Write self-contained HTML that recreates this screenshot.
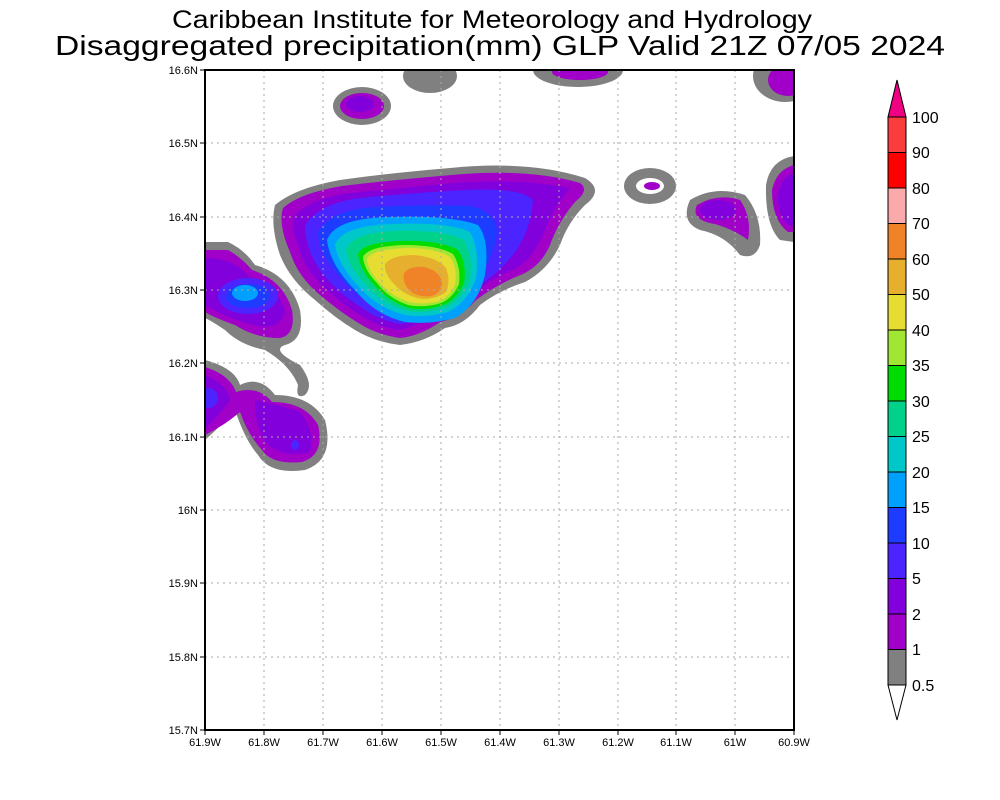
<!DOCTYPE html>
<html><head><meta charset="utf-8"><style>body{margin:0;background:#fff}svg{display:block}text{font-family:"Liberation Sans",sans-serif;fill:#000}</style></head><body>
<svg width="1000" height="800" viewBox="0 0 1000 800" xmlns="http://www.w3.org/2000/svg">
<text x="492" y="28" font-size="25" text-anchor="middle" textLength="640" lengthAdjust="spacingAndGlyphs">Caribbean Institute for Meteorology and Hydrology</text>
<text x="500" y="55" font-size="28" text-anchor="middle" textLength="890" lengthAdjust="spacingAndGlyphs">Disaggregated precipitation(mm) GLP Valid 21Z 07/05 2024</text>
<defs><clipPath id="c"><rect x="205" y="70" width="589" height="660"/></clipPath></defs>
<g clip-path="url(#c)">
<ellipse cx="362" cy="106" rx="29" ry="19" fill="#808080"/><ellipse cx="362" cy="106" rx="22" ry="13" fill="#a000c8"/><ellipse cx="360" cy="104" rx="14" ry="8" fill="#8200dc"/>
<ellipse cx="430" cy="76" rx="27" ry="17" fill="#808080"/>
<ellipse cx="578" cy="70" rx="45" ry="17" fill="#808080"/><ellipse cx="580" cy="72" rx="28" ry="8" fill="#a000c8"/>
<ellipse cx="785" cy="76" rx="32" ry="26" fill="#808080"/><ellipse cx="788" cy="80" rx="20" ry="16" fill="#a000c8"/>
<ellipse cx="650" cy="186" rx="26" ry="18" fill="#808080"/><ellipse cx="650" cy="186" rx="14" ry="8" fill="#fff"/><ellipse cx="652" cy="186" rx="8" ry="4" fill="#a000c8"/>
<path d="M690,200 Q715,185 745,195 Q762,215 760,245 Q755,260 740,255 Q725,235 700,230 Q680,222 690,200Z" fill="#808080"/>
<path d="M697,205 Q718,193 740,200 Q752,217 748,240 Q735,230 715,224 Q690,220 697,205Z" fill="#a000c8"/>
<ellipse cx="718" cy="210" rx="18" ry="10" fill="#8200dc"/>
<path d="M794,156 Q770,160 766,185 Q765,225 780,240 L794,242Z" fill="#808080"/>
<path d="M794,165 Q776,170 772,190 Q772,220 788,232 L794,232Z" fill="#a000c8"/>
<ellipse cx="794" cy="200" rx="16" ry="26" fill="#8200dc"/>
<path d="M205,242 L228,242 Q245,250 255,265 Q290,275 300,310 Q305,340 285,345 Q270,350 300,365 Q315,385 305,395 Q295,400 298,385 Q290,365 265,350 Q240,345 225,330 Q210,320 205,318Z" fill="#808080"/>
<path d="M205,250 L228,250 Q242,258 252,270 Q283,280 292,310 Q296,335 280,338 Q255,338 235,325 Q215,318 205,312Z" fill="#a000c8"/>
<path d="M205,258 Q235,258 250,278 Q280,288 285,312 Q280,330 258,326 Q230,320 205,305Z" fill="#8200dc"/>
<ellipse cx="248" cy="296" rx="30" ry="18" fill="#4b24ff"/>
<ellipse cx="248" cy="296" rx="22" ry="12" fill="#1e3cff"/>
<ellipse cx="245" cy="293" rx="13" ry="8" fill="#00a0ff"/>
<path d="M205,360 Q235,368 240,385 Q260,375 275,395 Q310,395 325,420 Q335,460 305,470 Q270,475 258,455 Q245,440 235,410 Q222,425 205,440Z" fill="#808080"/>
<path d="M205,367 Q230,375 236,392 Q258,385 272,402 Q305,402 318,425 Q325,455 302,462 Q272,465 262,450 Q248,435 240,412 Q225,425 205,435Z" fill="#a000c8"/>
<path d="M205,375 Q228,385 230,400 Q215,420 205,428Z" fill="#8200dc"/>
<path d="M255,400 Q280,405 300,412 Q315,430 310,452 Q285,458 268,445 Q255,430 255,400Z" fill="#8200dc"/>
<ellipse cx="208" cy="398" rx="10" ry="10" fill="#4b24ff"/>
<ellipse cx="295" cy="445" rx="4" ry="5" fill="#4b24ff"/>
<path d="M275,205 Q295,188 340,180 Q390,173 450,168 Q530,160 585,178 Q605,190 585,205 Q568,222 560,245 Q548,270 525,282 Q500,290 480,305 Q465,325 445,328 Q425,342 400,345 Q375,342 355,330 Q335,318 315,300 Q290,280 280,255 Q270,225 275,205Z" fill="#808080"/>
<path d="M283,208 Q300,193 342,186 Q392,180 452,175 Q528,168 580,183 Q590,190 575,202 Q558,222 550,245 Q540,268 518,276 Q496,285 476,300 Q460,318 440,322 Q420,336 400,338 Q378,335 360,324 Q340,312 320,295 Q298,277 290,252 Q278,225 283,208Z" fill="#a000c8"/>
<path d="M295,215 Q312,198 350,193 Q400,188 455,183 Q520,178 570,188 Q555,205 545,230 Q532,262 512,270 Q490,280 470,295 Q452,312 432,315 Q412,328 398,330 Q380,327 365,318 Q343,305 325,288 Q303,268 298,245 Q290,228 295,215Z" fill="#8200dc"/>
<path d="M305,225 Q320,203 360,198 Q410,193 465,190 Q520,187 533,200 Q530,232 515,252 Q500,272 480,285 Q460,302 440,310 Q418,322 400,324 Q378,320 362,308 Q340,294 325,277 Q305,252 305,225Z" fill="#4b24ff"/>
<path d="M318,232 Q330,210 375,207 Q425,204 470,206 Q498,212 497,235 Q492,262 477,278 Q458,296 440,306 Q420,316 402,316 Q380,313 365,300 Q345,286 333,268 Q318,250 318,232Z" fill="#1e3cff"/>
<path d="M327,240 Q335,218 390,217 Q450,215 478,225 Q490,240 485,275 Q478,305 455,318 Q430,325 405,322 Q375,315 355,290 Q330,265 327,240Z" fill="#00a0ff"/>
<path d="M335,245 Q342,225 395,224 Q448,222 470,232 Q480,250 476,278 Q468,302 448,312 Q425,318 405,315 Q378,308 360,288 Q338,265 335,245Z" fill="#00c8c8"/>
<path d="M346,250 Q352,232 398,231 Q445,230 464,240 Q473,256 470,280 Q462,300 445,308 Q425,314 407,311 Q382,304 366,285 Q348,266 346,250Z" fill="#00d28c"/>
<path d="M358,254 Q363,242 402,241 Q440,240 458,250 Q467,263 464,283 Q456,301 441,306 Q423,311 408,308 Q386,300 373,284 Q359,268 358,254Z" fill="#00dc00"/>
<path d="M363,257 Q368,246 405,245 Q438,245 453,254 Q461,266 459,284 Q452,300 438,304 Q421,308 408,305 Q388,298 377,283 Q364,270 363,257Z" fill="#a0e632"/>
<path d="M367,259 Q372,249 407,248 Q436,248 450,257 Q458,268 455,285 Q448,299 436,302 Q420,305 409,302 Q391,296 380,283 Q368,271 367,259Z" fill="#e6dc32"/>
<path d="M385,264 Q392,255 414,255 Q437,257 446,268 Q451,281 446,292 Q437,299 422,299 Q405,296 395,285 Q384,274 385,264Z" fill="#e6af2d"/>
<path d="M404,273 Q410,266 424,267 Q438,270 442,281 Q443,292 432,296 Q418,298 409,290 Q402,282 404,273Z" fill="#f08228"/>
</g>
<g stroke="#aaa" stroke-width="1" stroke-dasharray="2,4">
<line x1="264" y1="70" x2="264" y2="730"/><line x1="323" y1="70" x2="323" y2="730"/><line x1="382" y1="70" x2="382" y2="730"/><line x1="441" y1="70" x2="441" y2="730"/><line x1="500" y1="70" x2="500" y2="730"/><line x1="559" y1="70" x2="559" y2="730"/><line x1="618" y1="70" x2="618" y2="730"/><line x1="676" y1="70" x2="676" y2="730"/><line x1="735" y1="70" x2="735" y2="730"/>
<line x1="205" y1="143" x2="794" y2="143"/><line x1="205" y1="217" x2="794" y2="217"/><line x1="205" y1="290" x2="794" y2="290"/><line x1="205" y1="363" x2="794" y2="363"/><line x1="205" y1="437" x2="794" y2="437"/><line x1="205" y1="510" x2="794" y2="510"/><line x1="205" y1="583" x2="794" y2="583"/><line x1="205" y1="657" x2="794" y2="657"/>
</g>
<rect x="205" y="70" width="589" height="660" fill="none" stroke="#000" stroke-width="2"/>
<g stroke="#000" stroke-width="1">
<line x1="200" y1="70" x2="205" y2="70"/><line x1="200" y1="143" x2="205" y2="143"/><line x1="200" y1="217" x2="205" y2="217"/><line x1="200" y1="290" x2="205" y2="290"/><line x1="200" y1="363" x2="205" y2="363"/><line x1="200" y1="437" x2="205" y2="437"/><line x1="200" y1="510" x2="205" y2="510"/><line x1="200" y1="583" x2="205" y2="583"/><line x1="200" y1="657" x2="205" y2="657"/><line x1="200" y1="730" x2="205" y2="730"/>
<line x1="205" y1="730" x2="205" y2="735"/><line x1="264" y1="730" x2="264" y2="735"/><line x1="323" y1="730" x2="323" y2="735"/><line x1="382" y1="730" x2="382" y2="735"/><line x1="441" y1="730" x2="441" y2="735"/><line x1="500" y1="730" x2="500" y2="735"/><line x1="559" y1="730" x2="559" y2="735"/><line x1="618" y1="730" x2="618" y2="735"/><line x1="676" y1="730" x2="676" y2="735"/><line x1="735" y1="730" x2="735" y2="735"/><line x1="794" y1="730" x2="794" y2="735"/>
</g>
<g font-size="11" text-anchor="end">
<text x="198" y="74">16.6N</text><text x="198" y="147">16.5N</text><text x="198" y="221">16.4N</text><text x="198" y="294">16.3N</text><text x="198" y="367">16.2N</text><text x="198" y="441">16.1N</text><text x="198" y="514">16N</text><text x="198" y="587">15.9N</text><text x="198" y="661">15.8N</text><text x="198" y="734">15.7N</text>
</g>
<g font-size="11" text-anchor="middle">
<text x="205" y="746">61.9W</text><text x="264" y="746">61.8W</text><text x="323" y="746">61.7W</text><text x="382" y="746">61.6W</text><text x="441" y="746">61.5W</text><text x="500" y="746">61.4W</text><text x="559" y="746">61.3W</text><text x="618" y="746">61.2W</text><text x="676" y="746">61.1W</text><text x="735" y="746">61W</text><text x="794" y="746">60.9W</text>
</g>
<g stroke="#000" stroke-width="1">
<polygon points="888,117 897,80 906,117" fill="#f00082"/>
<rect x="888" y="117" width="18" height="35.5" fill="#fa3c3c"/>
<rect x="888" y="152.5" width="18" height="35.5" fill="#ff0000"/>
<rect x="888" y="188" width="18" height="35.5" fill="#faaaaa"/>
<rect x="888" y="223.5" width="18" height="35.5" fill="#f08228"/>
<rect x="888" y="259" width="18" height="35.5" fill="#e6af2d"/>
<rect x="888" y="294.5" width="18" height="35.5" fill="#e6dc32"/>
<rect x="888" y="330" width="18" height="35.5" fill="#a0e632"/>
<rect x="888" y="365.5" width="18" height="35.5" fill="#00dc00"/>
<rect x="888" y="401" width="18" height="35.5" fill="#00d28c"/>
<rect x="888" y="436.5" width="18" height="35.5" fill="#00c8c8"/>
<rect x="888" y="472" width="18" height="35.5" fill="#00a0ff"/>
<rect x="888" y="507.5" width="18" height="35.5" fill="#1e3cff"/>
<rect x="888" y="543" width="18" height="35.5" fill="#4b24ff"/>
<rect x="888" y="578.5" width="18" height="35.5" fill="#8200dc"/>
<rect x="888" y="614" width="18" height="35.5" fill="#a000c8"/>
<rect x="888" y="649.5" width="18" height="35.5" fill="#808080"/>
<polygon points="888,685 897,720 906,685" fill="#fff"/>
</g>
<g font-size="16">
<text x="912" y="123">100</text><text x="912" y="158">90</text><text x="912" y="194">80</text><text x="912" y="229">70</text><text x="912" y="265">60</text><text x="912" y="300">50</text><text x="912" y="336">40</text><text x="912" y="371">35</text><text x="912" y="407">30</text><text x="912" y="442">25</text><text x="912" y="478">20</text><text x="912" y="513">15</text><text x="912" y="549">10</text><text x="912" y="584">5</text><text x="912" y="620">2</text><text x="912" y="655">1</text><text x="912" y="691">0.5</text>
</g>
</svg>
</body></html>
